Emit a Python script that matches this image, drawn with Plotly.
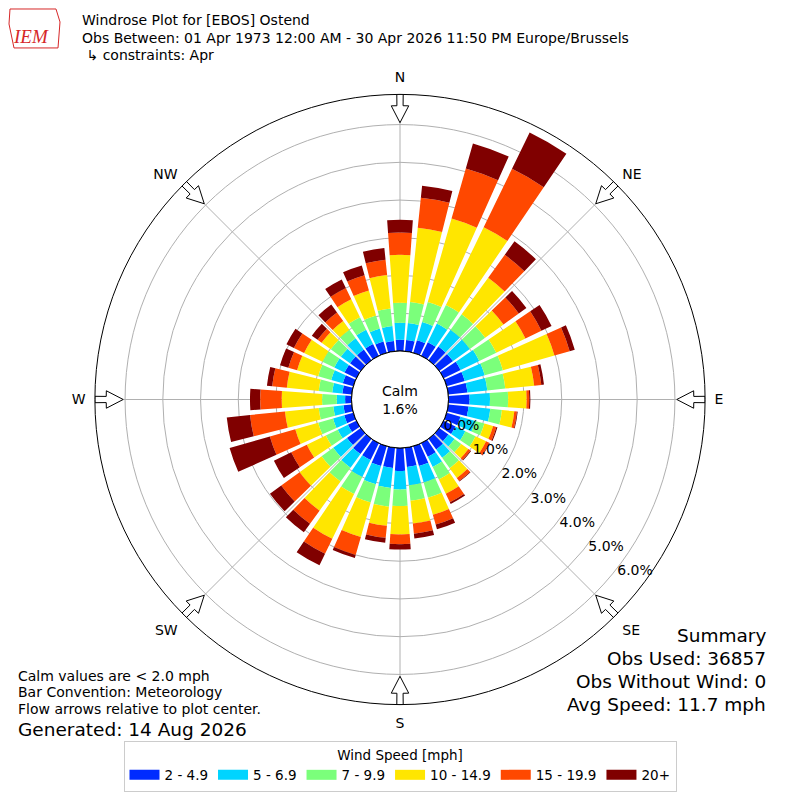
import plotly.graph_objects as go

# wind direction bins (degrees, meteorological)
directions = list(range(0, 360, 10))

speed_labels = ["2 - 4.9", "5 - 6.9", "7 - 9.9", "10 - 14.9", "15 - 19.9", "20+"]
colors = ["#002bff", "#00d4ff", "#7bff7b", "#ffe600", "#ff4800", "#800000"]

# frequency (%) per speed bin, one value per direction
spd_2_5 = [0.30, 0.30, 0.35, 0.40, 0.45, 0.45, 0.50, 0.50, 0.51, 0.56, 0.54, 0.38,
           0.35, 0.30, 0.35, 0.40, 0.55, 0.51, 0.61, 0.54, 0.55, 0.50, 0.50, 0.45,
           0.25, 0.25, 0.22, 0.17, 0.25, 0.29, 0.35, 0.35, 0.35, 0.35, 0.31, 0.27]
spd_5_7 = [0.45, 0.45, 0.50, 0.55, 0.55, 0.55, 0.55, 0.55, 0.53, 0.54, 0.58, 0.41,
           0.29, 0.20, 0.27, 0.30, 0.45, 0.49, 0.49, 0.53, 0.50, 0.50, 0.45, 0.45,
           0.30, 0.31, 0.27, 0.22, 0.27, 0.32, 0.30, 0.30, 0.37, 0.42, 0.36, 0.40]
spd_7_10 = [0.53, 0.56, 0.55, 0.55, 0.50, 0.50, 0.50, 0.50, 0.48, 0.48, 0.31, 0.25,
            0.30, 0.22, 0.34, 0.37, 0.42, 0.41, 0.44, 0.50, 0.50, 0.50, 0.45, 0.38,
            0.35, 0.41, 0.39, 0.39, 0.36, 0.36, 0.35, 0.33, 0.28, 0.37, 0.36, 0.47]
spd_10_15 = [1.27, 1.98, 2.30, 2.29, 1.20, 0.60, 0.86, 1.42, 0.77, 0.49, 0.33, 0.24,
             0.31, 0.23, 0.32, 0.42, 0.47, 0.61, 0.75, 0.51, 0.95, 1.32, 0.95, 0.72,
             0.56, 0.63, 0.90, 1.07, 0.85, 0.58, 0.54, 0.30, 0.28, 0.53, 0.69, 0.89]
spd_15_20 = [0.59, 0.80, 1.38, 1.72, 0.75, 0.50, 0.47, 0.42, 0.19, 0.07, 0.07, 0.09,
             0.09, 0.07, 0.10, 0.25, 0.27, 0.27, 0.26, 0.32, 0.50, 0.44, 0.43, 0.60,
             0.46, 0.70, 0.93, 0.57, 0.39, 0.24, 0.30, 0.13, 0.28, 0.33, 0.42, 0.41]
spd_20p = [0.34, 0.32, 0.69, 1.07, 0.44, 0.25, 0.30, 0.14, 0.07, 0.03, 0.02, 0.03,
           0.02, 0.02, 0.02, 0.05, 0.13, 0.13, 0.14, 0.13, 0.08, 0.34, 0.28, 0.37,
           0.51, 1.11, 0.62, 0.27, 0.14, 0.23, 0.22, 0.19, 0.26, 0.25, 0.27, 0.31]

series = [spd_2_5, spd_5_7, spd_7_10, spd_10_15, spd_15_20, spd_20p]

radial_ticks = [0, 1, 2, 3, 4, 5, 6]
compass_angles = [0, 45, 90, 135, 180, 225, 270, 315]
compass_labels = ["N", "NE", "E", "SE", "S", "SW", "W", "NW"]

calm_pct = 1.6
font = "DejaVu Sans"
grid = "#b0b0b0"

# page body has an 8px margin, so the figure is 784px and shifted by 8
W = 784
OFF = 8


def pos(x, y):
    return (x - OFF) / W, 1 - (y - OFF) / W


fig = go.Figure()

for vals, name, col in zip(series, speed_labels, colors):
    fig.add_trace(go.Barpolar(r=vals, theta=directions, width=8.2, name=name,
                              marker=dict(color=col, line=dict(width=0)),
                              showlegend=False))
    # legend entry drawn as a wide swatch
    fig.add_trace(go.Scatterpolar(r=[None], theta=[None], mode="lines", name=name,
                                  line=dict(color=col, width=10)))

# calm circle outline
fig.add_trace(go.Scatterpolar(r=[0] * 73, theta=list(range(0, 365, 5)), mode="lines",
                              line=dict(color="black", width=1), showlegend=False,
                              hoverinfo="skip"))

# flow arrows pointing to center
for a in compass_angles:
    fig.add_trace(go.Scatterpolar(
        r=[6.05, 6.5, 6.5, 6.8, 6.8, 6.5, 6.5, 6.05],
        theta=[a, a - 1.7, a - 0.6, a - 0.6, a + 0.6, a + 0.6, a + 1.7, a],
        mode="lines", fill="toself", fillcolor="white",
        line=dict(color="black", width=1), showlegend=False, hoverinfo="skip"))

r_px = 305.5
dom0 = (400 - OFF - r_px) / W
dom1 = (400 - OFF + r_px) / W

fig.update_layout(
    width=W, height=W,
    margin=dict(l=0, r=0, t=0, b=0),
    paper_bgcolor="white",
    font=dict(family=font, size=14, color="black"),
    polar=dict(
        domain=dict(x=[dom0, dom1], y=[dom0, dom1]),
        hole=0.159,
        bgcolor="white",
        barmode="stack",
        radialaxis=dict(range=[0, 6.8], tickvals=radial_ticks,
                        ticktext=["%.1f%%" % v for v in radial_ticks],
                        showline=False, gridcolor=grid, gridwidth=1, angle=-40,
                        side="counterclockwise",
                        tickangle=-40, ticks="", tickfont=dict(size=14),
                        layer="above traces"),
        angularaxis=dict(rotation=90, direction="clockwise", tickmode="array",
                         tickvals=compass_angles, ticktext=compass_labels,
                         showline=True, linecolor="black", linewidth=1,
                         gridcolor=grid, gridwidth=1, ticks="outside", ticklen=6,
                         tickcolor="rgba(0,0,0,0)", tickfont=dict(size=14),
                         layer="above traces"),
    ),
    legend=dict(orientation="h", x=0.5, xanchor="center", y=pos(0, 742)[1],
                yanchor="top",
                bordercolor="#cccccc", borderwidth=1, bgcolor="white",
                font=dict(size=13.5),
                title=dict(text="Wind Speed [mph]", side="top center",
                           font=dict(size=13.5))),
)

# simple IEM logo outline
fig.add_shape(type="path", xref="paper", yref="paper",
              path="M %f,%f L %f,%f L %f,%f L %f,%f L %f,%f L %f,%f Z" % (
                  *pos(10, 9), *pos(56, 9), *pos(60, 22), *pos(58, 48),
                  *pos(14, 48), *pos(9, 24)),
              line=dict(color="#d62728", width=1))


def px_note(text, x, y, size=14, anchor="left", **kw):
    px, py = pos(x, y)
    fig.add_annotation(text=text, x=px, y=py, xref="paper", yref="paper",
                       xanchor=anchor, yanchor="middle", showarrow=False,
                       font=dict(size=size, family=kw.get("family", font),
                                 color=kw.get("color", "black")))


px_note("Windrose Plot for [EBOS] Ostend", 80, 20)
px_note("Obs Between: 01 Apr 1973 12:00 AM - 30 Apr 2026 11:50 PM Europe/Brussels", 80, 38)
px_note(" ↳ constraints: Apr", 80, 55)
px_note("<i>IEM</i>", 31, 37, size=19, anchor="center", family="Liberation Serif",
        color="#d62728")

cx, cy = pos(400, 400)
fig.add_annotation(text="Calm<br>%.1f%%" % calm_pct, x=cx, y=cy, xref="paper",
                   yref="paper", showarrow=False, font=dict(size=14))

px_note("Calm values are < 2.0 mph", 16, 677)
px_note("Bar Convention: Meteorology", 16, 693)
px_note("Flow arrows relative to plot center.", 16, 710)
px_note("Generated: 14 Aug 2026", 16, 730, size=18.5)

px_note("Summary", 768, 636, size=18.5, anchor="right")
px_note("Obs Used: 36857", 768, 659, size=18.5, anchor="right")
px_note("Obs Without Wind: 0", 768, 682, size=18.5, anchor="right")
px_note("Avg Speed: 11.7 mph", 768, 705, size=18.5, anchor="right")

fig.write_html("out.html")
